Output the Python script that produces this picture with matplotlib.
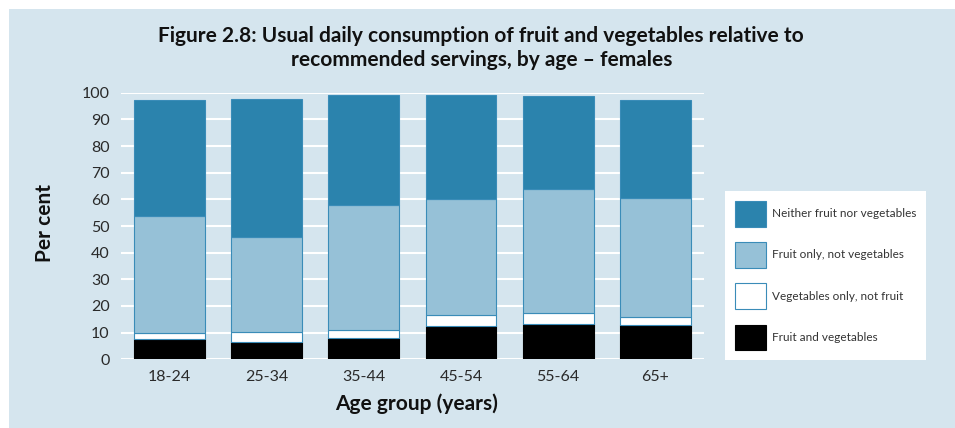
import matplotlib.pyplot as plt
import numpy as np
from matplotlib.patches import Rectangle

# Values (per cent)
age_groups = ["18-24", "25-34", "35-44", "45-54", "55-64", "65+"]
fruit_and_veg = [7.7, 6.4, 7.9, 12.5, 13.1, 12.9]
veg_only = [2.3, 4.0, 3.0, 4.2, 4.3, 2.9]
fruit_only = [43.7, 35.6, 47.1, 43.3, 46.4, 44.7]
neither = [43.6, 51.6, 41.1, 39.2, 35.0, 36.8]

series_labels = ["Fruit and vegetables", "Vegetables only, not fruit",
                 "Fruit only, not vegetables", "Neither fruit nor vegetables"]
series_colors = ["#000000", "#ffffff", "#96c1d7", "#2b83ad"]
edge_colors = ["#000000", "#3a8cb8", "#3a8cb8", "#3a8cb8"]

bg = "#d5e5ee"
plt.rcParams['font.family'] = ['Lato', 'DejaVu Sans']

fig = plt.figure(figsize=(9.55, 4.28), dpi=100)
fig.patch.set_facecolor("white")
fig.patches.append(Rectangle((9 / 955, 0), 1 - 9 / 955, 1 - 9 / 428,
                             transform=fig.transFigure, facecolor=bg,
                             edgecolor="none", zorder=-10))

ax = fig.add_axes([120.7 / 955, 1 - 359.3 / 428, (704 - 120.7) / 955, (359.3 - 92.7) / 428])
ax.set_facecolor(bg)

x = np.arange(len(age_groups))
data = [fruit_and_veg, veg_only, fruit_only, neither]
bottom = np.zeros(len(age_groups))
handles = []
for vals, lab, col, ec in zip(data, series_labels, series_colors, edge_colors):
    b = ax.bar(x, vals, width=0.727, bottom=bottom, color=col, edgecolor=ec,
               linewidth=0.8, label=lab, zorder=3)
    handles.append(b)
    bottom += np.array(vals)

ax.set_xlim(-0.5, 5.5)
ax.set_ylim(0, 100)
ax.set_yticks(range(0, 101, 10))
ax.set_xticks(x)
ax.set_xticklabels(age_groups)
ax.grid(axis='y', color='white', linewidth=1.5, zorder=0)
ax.set_axisbelow(True)
for s in ax.spines.values():
    s.set_visible(False)
ax.tick_params(axis='both', length=0, labelsize=11.5, colors='#2a2a2a')
ax.tick_params(axis='y', pad=8)
ax.tick_params(axis='x', pad=8)
for t in ax.get_yticklabels() + ax.get_xticklabels():
    t.set_clip_on(False)

fig.text(0.504, 1 - 47.5 / 428,
         "Figure 2.8: Usual daily consumption of fruit and vegetables relative to\n"
         "recommended servings, by age \u2013 females",
         ha='center', va='center', fontsize=15, fontweight='bold',
         color='#111111', linespacing=1.25)
fig.text(45 / 955, 1 - 223 / 428, "Per cent", rotation=90, ha='center',
         va='center', fontsize=15, fontweight='bold', color='#111111')
fig.text(416.5 / 955, 1 - 404 / 428, "Age group (years)", ha='center',
         va='center', fontsize=15, fontweight='bold', color='#111111')

leg = fig.legend(handles[::-1], series_labels[::-1], loc='upper left',
                 bbox_to_anchor=(725 / 955, 1 - 190.7 / 428), borderaxespad=0,
                 fontsize=8.5, handlelength=2.6, handleheight=3.0,
                 handletextpad=0.5, labelspacing=1.3, borderpad=0.85,
                 fancybox=False, frameon=True, framealpha=1)
leg.get_frame().set_facecolor('white')
leg.get_frame().set_edgecolor('none')
for t in leg.get_texts():
    t.set_color('#333333')

fig.savefig("out.png", dpi=100, facecolor=fig.get_facecolor())
